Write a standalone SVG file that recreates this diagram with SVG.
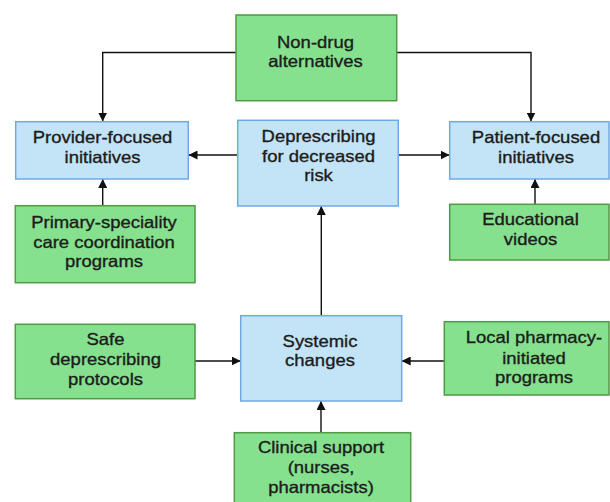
<svg xmlns="http://www.w3.org/2000/svg" width="610" height="502" viewBox="0 0 610 502">
<style>
.g{fill:#86E18E;stroke:#4F9A42;stroke-width:1.5}
.b{fill:#C3E4F6;stroke:#6FA8E6;stroke-width:1.5}
.t{font-family:"Liberation Sans",Arial,sans-serif;font-size:16.5px;fill:#1c1c1c;stroke:#1c1c1c;stroke-width:0.35;text-anchor:middle}
.c{fill:none;stroke:#111;stroke-width:1.4}
</style>
<defs>
<marker id="ah" markerUnits="userSpaceOnUse" markerWidth="9" markerHeight="9" refX="8" refY="4" orient="auto" viewBox="0 0 8 8">
<path d="M0,0 L8,4 L0,8 z" fill="#111"/>
</marker>
</defs>
<rect width="610" height="502" fill="#fff"/>
<g id="connectors">
<path class="c" d="M236,52.5 H102.7 V121.5" marker-end="url(#ah)"/>
<path class="c" d="M397,52.5 H531 V121.5" marker-end="url(#ah)"/>
<path class="c" d="M237.5,155 H188.5" marker-end="url(#ah)"/>
<path class="c" d="M398.5,155 H449.5" marker-end="url(#ah)"/>
<path class="c" d="M102.7,205.7 V179" marker-end="url(#ah)"/>
<path class="c" d="M535,204.3 V179" marker-end="url(#ah)"/>
<path class="c" d="M321.3,315.7 V206" marker-end="url(#ah)"/>
<path class="c" d="M195,361 H240.7" marker-end="url(#ah)"/>
<path class="c" d="M444.3,361 H401.7" marker-end="url(#ah)"/>
<path class="c" d="M321,432.7 V401" marker-end="url(#ah)"/>
</g>
<g id="nondrug">
<rect class="g" x="236" y="15" width="160.7" height="85.7"/>
<text class="t" transform="translate(315.5,0) scale(1.12,1)"><tspan x="0" y="48">Non-drug</tspan><tspan x="0" y="67">alternatives</tspan></text>
</g>
<g id="provider">
<rect class="b" x="15.7" y="121.7" width="172.6" height="57.3"/>
<text class="t" transform="translate(102.5,0) scale(1.12,1)"><tspan x="0" y="143.3">Provider-focused</tspan><tspan x="0" y="163.3">initiatives</tspan></text>
</g>
<g id="deprescribing">
<rect class="b" x="237.7" y="120.3" width="160.6" height="85.7"/>
<text class="t" transform="translate(318.5,0) scale(1.12,1)"><tspan x="0" y="142.3">Deprescribing</tspan><tspan x="0" y="161.7">for decreased</tspan><tspan x="0" y="181">risk</tspan></text>
</g>
<g id="patient">
<rect class="b" x="449.7" y="121.7" width="159.3" height="57.3"/>
<text class="t" transform="translate(536,0) scale(1.12,1)"><tspan x="0" y="143.3">Patient-focused</tspan><tspan x="0" y="163.3">initiatives</tspan></text>
</g>
<g id="primary">
<rect class="g" x="15.3" y="205.7" width="179.7" height="77"/>
<text class="t" transform="translate(104,0) scale(1.12,1)"><tspan x="0" y="228.3">Primary-speciality</tspan><tspan x="0" y="248">care coordination</tspan><tspan x="0" y="267.5">programs</tspan></text>
</g>
<g id="educational">
<rect class="g" x="449.7" y="204.3" width="159.3" height="55.7"/>
<text class="t" transform="translate(530.5,0) scale(1.12,1)"><tspan x="0" y="225">Educational</tspan><tspan x="0" y="245.5">videos</tspan></text>
</g>
<g id="safe">
<rect class="g" x="15.3" y="324.3" width="179.7" height="74.4"/>
<text class="t" transform="translate(105.5,0) scale(1.12,1)"><tspan x="0" y="345">Safe</tspan><tspan x="0" y="365.5">deprescribing</tspan><tspan x="0" y="385">protocols</tspan></text>
</g>
<g id="systemic">
<rect class="b" x="240.7" y="315.7" width="161" height="85.3"/>
<text class="t" transform="translate(320,0) scale(1.12,1)"><tspan x="0" y="346.7">Systemic</tspan><tspan x="0" y="365.7">changes</tspan></text>
</g>
<g id="local">
<rect class="g" x="444.3" y="321.7" width="164.7" height="73.3"/>
<text class="t" transform="translate(534,0) scale(1.12,1)"><tspan x="0" y="343.3">Local pharmacy-</tspan><tspan x="0" y="364">initiated</tspan><tspan x="0" y="383.3">programs</tspan></text>
</g>
<g id="clinical">
<rect class="g" x="234.3" y="432.7" width="176.4" height="80"/>
<text class="t" transform="translate(321,0) scale(1.12,1)"><tspan x="0" y="453.3">Clinical support</tspan><tspan x="0" y="473.3">(nurses,</tspan><tspan x="0" y="492.7">pharmacists)</tspan></text>
</g>
</svg>
